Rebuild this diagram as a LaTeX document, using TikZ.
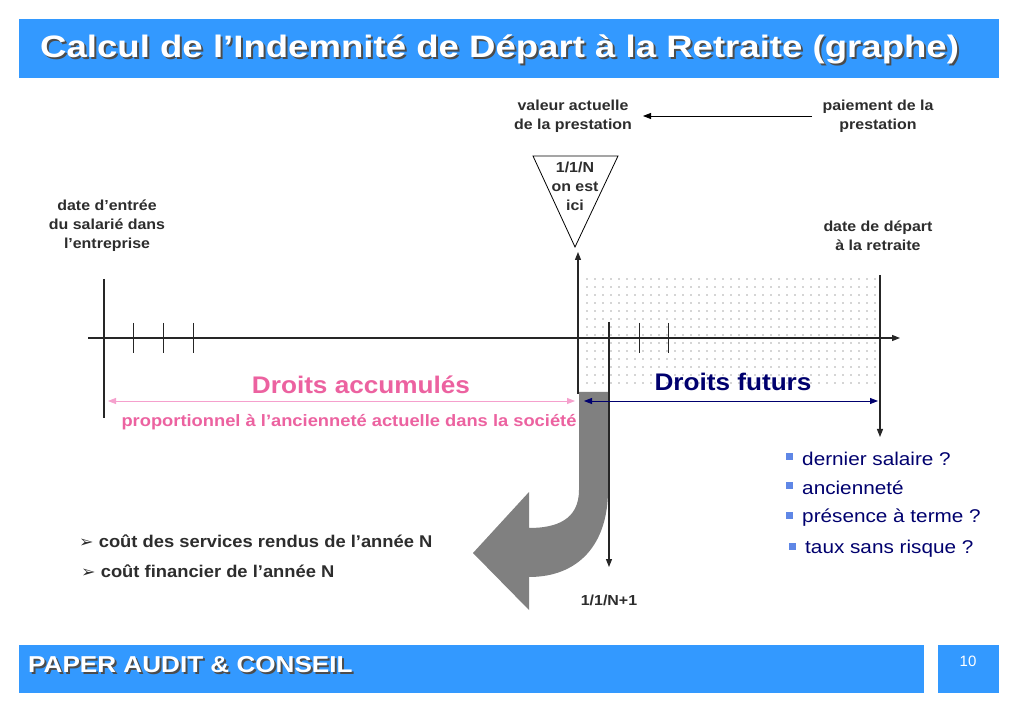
\documentclass[tikz,border=0pt]{standalone}
\usepackage{fontspec}
\setmainfont{Liberation Sans}
\newfontfamily\dingfont{DejaVu Sans}
\usetikzlibrary{arrows.meta,positioning}
\definecolor{barblue}{RGB}{51,153,255}
\definecolor{ink}{RGB}{45,45,45}
\definecolor{rose}{RGB}{236,98,160}
\definecolor{roseline}{RGB}{245,160,205}
\definecolor{navy}{RGB}{0,0,110}
\definecolor{arrowgray}{RGB}{128,128,128}
\definecolor{dotgray}{RGB}{170,170,170}
\definecolor{bulletblue}{RGB}{95,135,230}
\tikzset{
  >={Triangle[length=8pt,width=6pt]},
  bar/.style={fill=barblue,draw=none},
  headtext/.style={font=\fontsize{#1}{#1}\selectfont\bfseries,text=white,anchor=west,inner sep=0pt},
  headshadow/.style={font=\fontsize{#1}{#1}\selectfont\bfseries,text=black!70,anchor=west,inner sep=0pt},
  tag/.style={font=\fontsize{14.5}{19}\selectfont\bfseries,text=ink,align=center,inner sep=0pt,xscale=1.1},
  rights/.style={font=\fontsize{24}{24}\selectfont\bfseries,text=#1,inner sep=0pt,xscale=1.09},
  axis/.style={line width=1.1pt,draw=black!85},
  tick/.style={line width=0.9pt,draw=black!85},
  item/.style={font=\fontsize{18.5}{18.5}\selectfont,text=navy,anchor=west,inner sep=0pt,xscale=1.12},
  cost/.style={font=\fontsize{17}{17}\selectfont\bfseries,text=ink,anchor=west,inner sep=0pt,xscale=1.08},
}

\begin{document}
\begin{tikzpicture}[x=1pt,y=-1pt]
  \useasboundingbox[fill=white] (0,0) rectangle (1023,708);
  % title and footer bars
  \fill[bar] (19,19) rectangle (999,78);
  \node[headshadow=31,xscale=1.18] (titleshadow) at (42,51) {Calcul de l’Indemnité de Départ à la Retraite (graphe)};
  \node[headtext=31,xscale=1.18] (title) at (40,49) {Calcul de l’Indemnité de Départ à la Retraite (graphe)};
  \fill[bar] (19,645) rectangle (924,693);
  \fill[bar] (938,645) rectangle (999,693);
  \node[headshadow=23,xscale=1.135] (footshadow) at (30,667) {PAPER AUDIT \& CONSEIL};
  \node[headtext=23,xscale=1.135] (foot) at (28,665) {PAPER AUDIT \& CONSEIL};
  \node[font=\fontsize{15}{15}\selectfont,text=white] (page) at (968,661) {10};

  % present value arrow
  \node[tag] (pv) at (573,116) {valeur actuelle\\de la prestation};
  \node[tag] (pay) at (878,116) {paiement de la\\prestation};
  \coordinate (payL) at (812,116);
  \coordinate (pvR) at (643,116);
  \draw[->,thick] (payL) -- (pvR);

  % "on est ici" marker
  \coordinate (triL) at (533,156);
  \coordinate (triR) at (618,156);
  \coordinate (triB) at (575,247);
  \draw[thick,fill=white] (triL) -- (triR) -- (triB) -- cycle;
  \node[tag] (now) at (575,186) {1/1/N\\on est\\ici};

  \node[tag] (entry) at (107,226) {date d’entrée\\du salarié dans\\l’entreprise};
  \node[tag] (retire) at (878,236) {date de départ\\à la retraite};

  % dotted zone of future rights
  \foreach \i in {0,...,36}
    \foreach \j in {0,...,13}
      \fill[dotgray] (587+8*\i,279+8*\j) circle (0.8);

  % bent grey arrow
  \fill[arrowgray] (579,392) -- (579,490) .. controls (579,520) and (556,528) .. (529,528)
    -- (529,492) -- (473,553) -- (529,610) -- (529,577)
    .. controls (578,577) and (608,545) .. (608,490) -- (608,392) -- cycle;

  % time axis
  \coordinate (axL) at (88,338);
  \coordinate (axR) at (900,338);
  \draw[axis,->] (axL) -- (axR);
  \coordinate (entryT) at (104,279);
  \coordinate (entryB) at (104,418);
  \draw[axis] (entryT) -- (entryB);
  \foreach \x in {133,163,193,639,668}
    \draw[tick] (\x,323) -- (\x,353);
  \coordinate (nowB) at (578,394);
  \coordinate (nowT) at (578,252);
  \draw[axis,->] (nowB) -- (nowT);
  \coordinate (nextT) at (609,322);
  \coordinate (nextB) at (609,567);
  \draw[axis,->] (nextT) -- (nextB);
  \coordinate (endT) at (880,275);
  \coordinate (endB) at (880,437);
  \draw[axis,->] (endT) -- (endB);
  \node[tag] (next) at (609,600) {1/1/N+1};

  % accumulated and future rights
  \node[rights=rose] (past) at (361,385) {Droits accumulés};
  \coordinate (pastL) at (108,401);
  \coordinate (pastR) at (575,401);
  \draw[roseline,thick,<->] (pastL) -- (pastR);
  \node[font=\fontsize{16.5}{16.5}\selectfont\bfseries,text=rose,xscale=1.11] (prorata) at (349,422)
    {proportionnel à l’ancienneté actuelle dans la société};
  \node[rights=navy] (future) at (733,382) {Droits futurs};
  \coordinate (futL) at (584,401);
  \coordinate (futR) at (878,401);
  \draw[navy,thick,<->] (futL) -- (futR);

  % hypotheses
  \foreach \bx/\y/\t in {789/459/dernier salaire ?,789/488/ancienneté,789/518/présence à terme ?,792/549/taux sans risque ?}{
    \fill[bulletblue] (\bx-3.5,\y-6) rectangle (\bx+3.5,\y+1);
    \node[item] at (\bx+13,\y) {\t};
  }

  % costs of year N
  \node[cost] (service) at (79,541) {{\dingfont\fontsize{16}{16}\selectfont ➢} coût des services rendus de l’année N};
  \node[cost] (finance) at (81,571) {{\dingfont\fontsize{16}{16}\selectfont ➢} coût financier de l’année N};
\end{tikzpicture}
\end{document}
